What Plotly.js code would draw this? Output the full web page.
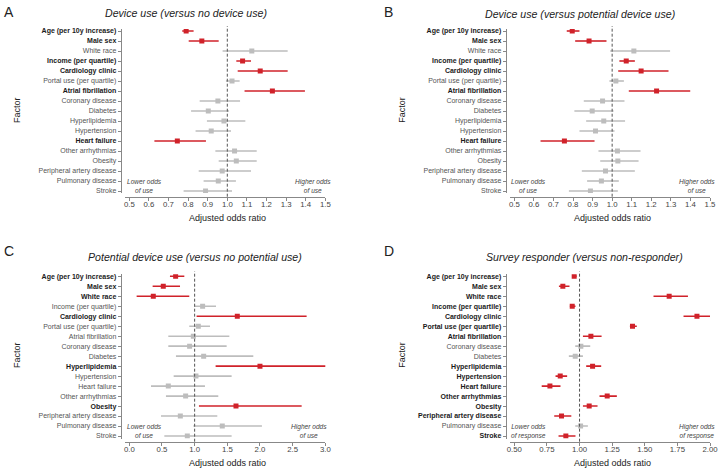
<!DOCTYPE html>
<html><head><meta charset="utf-8">
<script src="https://cdn.plot.ly/plotly-3.0.1.min.js"></script>
<style>html,body{margin:0;padding:0;background:#fff}#chart{width:720px;height:470px}</style>
</head><body><div id="chart"></div>
<script>
const factors = ["Age (per 10y increase)","Male sex","White race","Income (per quartile)","Cardiology clinic","Portal use (per quartile)","Atrial fibrillation","Coronary disease","Diabetes","Hyperlipidemia","Hypertension","Heart failure","Other arrhythmias","Obesity","Peripheral artery disease","Pulmonary disease","Stroke"];

// Panel A: Device use (versus no device use)
const orA = [0.79,0.87,1.125,1.078,1.168,1.024,1.23,0.952,0.903,0.983,0.918,0.745,1.037,1.046,0.974,0.954,0.889];
const loA = [0.77,0.803,0.976,1.046,1.053,0.993,1.088,0.859,0.815,0.896,0.838,0.628,0.939,0.956,0.854,0.879,0.777];
const hiA = [0.828,0.956,1.308,1.121,1.308,1.063,1.396,1.065,1.009,1.092,1.019,0.891,1.15,1.15,1.121,1.044,1.024];

// Panel B: Device use (versus potential device use)
const orB = [0.796,0.882,1.111,1.072,1.148,1.019,1.227,0.951,0.898,0.957,0.915,0.756,1.027,1.029,0.966,0.945,0.889];
const loB = [0.768,0.811,0.99,1.037,1.031,0.986,1.085,0.855,0.807,0.867,0.833,0.634,0.93,0.939,0.845,0.872,0.779];
const hiB = [0.833,0.971,1.296,1.116,1.288,1.06,1.399,1.063,1.007,1.066,1.012,0.91,1.145,1.135,1.116,1.034,1.029];

// Panel C: Potential device use (versus no potential use)
const orC = [0.709,0.52,0.367,1.122,1.653,1.056,0.98,0.923,1.138,2.0,1.02,0.597,0.862,1.633,0.781,1.423,0.888];
const loC = [0.622,0.357,0.112,0.99,1.03,0.918,0.597,0.597,0.714,1.321,0.679,0.332,0.561,1.066,0.485,0.98,0.536];
const hiC = [0.842,0.776,0.918,1.327,2.714,1.235,1.531,1.49,1.898,3.046,1.566,1.158,1.362,2.638,1.347,2.03,1.566];

// Panel D: Survey responder (versus non-responder)
const orD = [0.959,0.872,1.687,0.944,1.9,1.406,1.087,1.01,0.967,1.1,0.852,0.773,1.212,1.074,0.862,1.008,0.895];
const loD = [0.944,0.842,1.567,0.926,1.797,1.386,1.026,0.967,0.918,1.051,0.816,0.71,1.153,1.026,0.806,0.967,0.839];
const hiD = [0.977,0.923,1.831,0.969,2.015,1.439,1.169,1.082,1.026,1.166,0.905,0.854,1.286,1.138,0.937,1.064,0.969];

const titles = ["Device use (versus no device use)","Device use (versus potential device use)","Potential device use (versus no potential use)","Survey responder (versus non-responder)"];
const letters = ["A","B","C","D"];
const lowNotes = ["Lower odds<br>of use","Lower odds<br>of use","Lower odds<br>of use","Lower odds<br>of response"];
const highNotes = ["Higher odds<br>of use","Higher odds<br>of use","Higher odds<br>of use","Higher odds<br>of response"];
const xTitle = "Adjusted odds ratio";
const yTitle = "Factor";

const W = 720, H = 470;
const FONT = "Liberation Sans, Arial, Helvetica, sans-serif";
const RED = "#d0222a", GRAY = "#bdbdbd";
const px = v => v / W;
const py = v => 1 - v / H;

const panels = [
  {or: orA, lo: loA, hi: hiA, xr: [0.478, 1.5], tick0: 0.5, dtick: 0.1, fmt: ".1f"},
  {or: orB, lo: loB, hi: hiB, xr: [0.478, 1.5], tick0: 0.5, dtick: 0.1, fmt: ".1f"},
  {or: orC, lo: loC, hi: hiC, xr: [-0.066, 3.0], tick0: 0, dtick: 0.5, fmt: ".1f"},
  {or: orD, lo: loD, hi: hiD, xr: [0.467, 2.0], tick0: 0.5, dtick: 0.25, fmt: ".2f"}
];

const traces = [];
const layout = {
  width: W, height: H,
  margin: {l: 0, r: 0, t: 0, b: 0},
  paper_bgcolor: "#fff", plot_bgcolor: "rgba(0,0,0,0)",
  showlegend: false,
  font: {family: FONT, color: "#333"},
  shapes: [], annotations: []
};

panels.forEach((p, k) => {
  const n = k + 1;
  const xa = k === 0 ? "x" : "x" + n;
  const ya = k === 0 ? "y" : "y" + n;
  const xaKey = k === 0 ? "xaxis" : "xaxis" + n;
  const yaKey = k === 0 ? "yaxis" : "yaxis" + n;
  const isRight = (k % 2) === 1;
  const isBottom = k >= 2;
  const xL = isRight ? 510 : 125, xR = isRight ? 710 : 325.3;
  const yAxisX = isRight ? 505.7 : 120.7;
  const yTop = isBottom ? 274.3 : 29, yBot = isBottom ? 438.5 : 193;
  const xAxisY = isBottom ? 441.7 : 196.7;
  const yr = isBottom ? [16.25, -0.2] : [16.2, -0.2];

  const sig = p.or.map((v, i) => p.lo[i] > 1 || p.hi[i] < 1);
  [false, true].forEach(s => {
    const idx = p.or.map((v, i) => i).filter(i => sig[i] === s);
    traces.push({
      type: "scatter", mode: "markers", xaxis: xa, yaxis: ya,
      x: idx.map(i => p.or[i]), y: idx,
      error_x: {type: "data", symmetric: false,
        array: idx.map(i => p.hi[i] - p.or[i]),
        arrayminus: idx.map(i => p.or[i] - p.lo[i]),
        color: s ? RED : GRAY, thickness: 1.6, width: 0},
      marker: {symbol: "square", size: 5, color: s ? RED : GRAY},
      hoverinfo: "skip"
    });
  });

  layout[xaKey] = {
    domain: [px(xL), px(xR)], range: p.xr, anchor: "free", position: py(xAxisY),
    tick0: p.tick0, dtick: p.dtick, tickformat: p.fmt,
    showgrid: false, zeroline: false, showline: true, linecolor: "#888", linewidth: 1,
    ticks: "outside", ticklen: 3, tickcolor: "#888", tickwidth: 1, ticklabelstandoff: -3,
    tickfont: {family: FONT, size: 7.8, color: "#444"}, fixedrange: true
  };
  layout[yaKey] = {
    domain: [py(yBot), py(yTop)], range: yr, anchor: "free", position: px(yAxisX),
    tickmode: "array", tickvals: factors.map((f, i) => i),
    ticktext: factors.map((f, i) => sig[i]
      ? "<span style='color:#1a1a1a'><b>" + f + "</b></span>"
      : "<span style='color:#555555'>" + f + "</span>"),
    showgrid: false, zeroline: false, showline: true, linecolor: "#888", linewidth: 1,
    ticks: "outside", ticklen: 3, tickcolor: "#888", tickwidth: 1,
    tickfont: {family: FONT, size: 7, color: "#1a1a1a"}, fixedrange: true
  };

  layout.shapes.push({type: "line", xref: xa, yref: "paper", x0: 1, x1: 1,
    y0: py(xAxisY), y1: py(yTop - 3), line: {color: "#555", width: 1, dash: "3px,2px"}});

  const ox = isRight ? 360 : 0, oy = isBottom ? 235 : 0;
  layout.annotations.push({text: letters[k], xref: "paper", yref: "paper",
    x: px(ox + (isRight ? 22 : 2)), y: py(oy + (isBottom ? 16 : 12)), xanchor: "left", yanchor: "middle",
    showarrow: false, font: {family: FONT, size: 14, color: "#222"}});
  const tX = [186, 580, 195, 584][k];
  const tY = [13, 14, 257, 257][k];
  layout.annotations.push({text: "<i>" + titles[k] + "</i>", xref: "paper", yref: "paper",
    x: px(tX), y: py(tY), xanchor: "center", yanchor: "middle",
    showarrow: false, font: {family: FONT, size: 10.6, color: "#222"}});
  layout.annotations.push({text: xTitle, xref: "paper", yref: "paper",
    x: px([227.5, 612.5, 227.5, 612.5][k]), y: py(isBottom ? 463 : 218), xanchor: "center", yanchor: "middle",
    showarrow: false, font: {family: FONT, size: 9, color: "#222"}});
  layout.annotations.push({text: yTitle, xref: "paper", yref: "paper", textangle: -90,
    x: px(isRight ? 401.7 : 17), y: py(isBottom ? 355 : 110), xanchor: "center", yanchor: "middle",
    showarrow: false, font: {family: FONT, size: 9, color: "#222"}});
  const lowX = [144.3, 528.3, 144.3, 528.7][k];
  const highX = [313, 696.7, 309.3, 697][k];
  const noteY = isBottom ? 431 : 185.5;
  layout.annotations.push({text: "<i>" + lowNotes[k] + "</i>", xref: "paper", yref: "paper",
    x: px(lowX), y: py(noteY), xanchor: "center", yanchor: "middle", align: "center",
    showarrow: false, font: {family: FONT, size: 6.6, color: "#444"}});
  layout.annotations.push({text: "<i>" + highNotes[k] + "</i>", xref: "paper", yref: "paper",
    x: px(highX), y: py(noteY), xanchor: "center", yanchor: "middle", align: "center",
    showarrow: false, font: {family: FONT, size: 6.6, color: "#444"}});
});

Plotly.newPlot("chart", traces, layout, {displayModeBar: false, staticPlot: true});
</script>
</body></html>
